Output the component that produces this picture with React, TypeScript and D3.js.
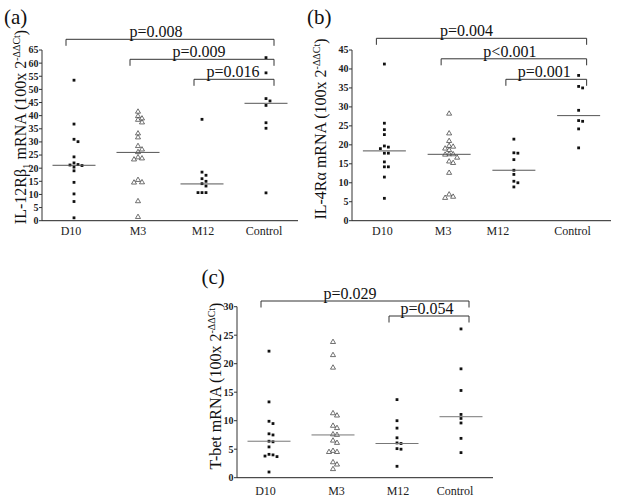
import React from 'react';
import * as d3 from 'd3';

const categories = ['D10', 'M3', 'M12', 'Control'];

// Panel (a): IL-12Rβ1
const aD10 = [53.5, 36.8, 31.0, 30.1, 24.3, 22.0, 21.4, 21.2, 21.0, 20.4, 19.0, 14.6, 10.2, 7.3, 1.1];
const aM3 = [41.5, 39.8, 38.9, 38.4, 37.4, 33.2, 31.7, 28.4, 27.1, 26.1, 24.1, 23.7, 23.3, 15.5, 14.6, 14.5, 7.4, 1.4];
const aM12 = [38.6, 18.5, 17.3, 16.0, 15.0, 14.1, 13.2, 10.7, 10.7, 10.7];
const aControl = [62.1, 56.3, 46.5, 45.6, 43.9, 37.3, 35.2, 10.6];
const aMedians = [21.1, 26.0, 14.0, 44.7];
const aTicks = [0, 5, 10, 15, 20, 25, 30, 35, 40, 45, 50, 55, 60, 65];
const aBrackets = [
  { from: 'D10', to: 'Control', label: 'p=0.008' },
  { from: 'M3', to: 'Control', label: 'p=0.009' },
  { from: 'M12', to: 'Control', label: 'p=0.016' },
];

// Panel (b): IL-4Rα
const bD10 = [41.3, 25.7, 24.0, 22.7, 19.7, 19.4, 19.0, 17.8, 17.8, 15.5, 14.2, 14.2, 11.5, 5.9];
const bM3 = [28.2, 23.0, 21.0, 19.7, 19.5, 19.0, 18.6, 17.5, 17.5, 17.4, 16.6, 15.6, 15.2, 12.6, 6.9, 6.3, 6.0];
const bM12 = [21.5, 17.9, 17.8, 16.1, 13.3, 12.2, 10.4, 10.0, 8.9];
const bControl = [38.3, 35.4, 35.0, 29.1, 26.4, 26.2, 24.2, 19.2];
const bMedians = [18.4, 17.5, 13.3, 27.7];
const bTicks = [0, 5, 10, 15, 20, 25, 30, 35, 40, 45];
const bBrackets = [
  { from: 'D10', to: 'Control', label: 'p=0.004' },
  { from: 'M3', to: 'Control', label: 'p<0.001' },
  { from: 'M12', to: 'Control', label: 'p=0.001' },
];

// Panel (c): T-bet
const cD10 = [22.2, 13.3, 9.9, 9.5, 7.7, 7.5, 6.4, 6.3, 5.4, 4.1, 4.0, 3.8, 3.7, 1.0];
const cM3 = [23.8, 21.5, 19.3, 11.3, 10.9, 9.1, 8.7, 7.6, 7.5, 6.5, 6.1, 4.7, 4.5, 4.5, 2.7, 2.3, 1.5];
const cM12 = [13.7, 10.0, 8.7, 7.0, 6.1, 6.0, 5.1, 5.0, 2.0];
const cControl = [26.1, 19.1, 15.3, 11.1, 10.4, 9.6, 6.9, 4.4];
const cMedians = [6.4, 7.5, 6.0, 10.7];
const cTicks = [0, 5, 10, 15, 20, 25, 30];
const cBrackets = [
  { from: 'D10', to: 'Control', label: 'p=0.029' },
  { from: 'M12', to: 'Control', label: 'p=0.054' },
];

const SERIF = "'Liberation Serif', 'Times New Roman', 'DejaVu Serif', serif";

type Bracket = { from: string; to: string; label: string };
type PanelProps = {
  groups: number[][];
  medians: number[];
  ticks: number[];
  brackets: Bracket[];
  x0: number; x1: number; yTop: number; yBottom: number; yMax: number;
  tag: string; tagX: number; tagY: number;
  yLabel: React.ReactNode; yLabelX: number; yLabelY: number;
  xLabelY: number; xLabelDx: number[];
  bracketY: number; bracketStep: number; bracketLabelDx: number[];
  medianColor: string;
};

function dodge(values: number[], cx: number, y: d3.ScaleLinear<number, number>) {
  const sorted = [...values].sort((a, b) => b - a);
  const placed: { x: number; y: number }[] = [];
  const offsets = [0, 4, -4, 8, -8, 12, -12];
  for (const v of sorted) {
    const py = y(v);
    let chosen = cx;
    for (const o of offsets) {
      const px = cx + o;
      const clash = placed.some(p => Math.abs(p.x - px) < 3.6 && Math.abs(p.y - py) < 3.6);
      if (!clash) { chosen = px; break; }
    }
    placed.push({ x: chosen, y: py });
  }
  return placed;
}

function Panel(p: PanelProps) {
  const x = d3.scaleBand<string>().domain(categories).range([p.x0, p.x1]);
  const y = d3.scaleLinear().domain([0, p.yMax]).range([p.yBottom, p.yTop]);
  const cx = (c: string) => (x(c) as number) + x.bandwidth() / 2;
  const tri = d3.symbol().type(d3.symbolTriangle).size(11)() as string;
  return (
    <g style={{ fontFamily: SERIF }}>
      <text x={p.tagX} y={p.tagY} fontSize={21} fill="#111">{p.tag}</text>
      {/* y axis */}
      <line x1={p.x0} x2={p.x0} y1={p.yBottom} y2={p.yTop} stroke="#333" strokeWidth={1} />
      {p.ticks.map(t => (
        <g key={t}>
          <line x1={p.x0 - 3} x2={p.x0} y1={y(t)} y2={y(t)} stroke="#333" strokeWidth={1} />
          <text x={p.x0 - 3.5} y={y(t) + 3.4} fontSize={10} fontWeight="bold" textAnchor="end" fill="#222">{t}</text>
        </g>
      ))}
      {/* x axis */}
      <line x1={p.x0} x2={p.x1} y1={p.yBottom} y2={p.yBottom} stroke="#222" strokeWidth={1} />
      {categories.map((c, i) => (
        <text key={c} x={cx(c) + p.xLabelDx[i]} y={p.xLabelY} fontSize={12} textAnchor="middle" fill="#222">{c}</text>
      ))}
      {/* y label */}
      <text transform={`translate(${p.yLabelX},${p.yLabelY}) rotate(-90)`} fontSize={16} textAnchor="middle" fill="#111">{p.yLabel}</text>
      {/* points */}
      {p.groups.map((vals, gi) => {
        const c = categories[gi];
        const pts = dodge(vals, cx(c), y);
        return (
          <g key={c}>
            {pts.map((pt, k) => gi === 1 ? (
              <path key={k} d={tri} transform={`translate(${pt.x},${pt.y})`} fill="#fff" stroke="#333" strokeWidth={0.7} />
            ) : (
              <rect key={k} x={pt.x - 1.4} y={pt.y - 1.4} width={2.8} height={2.8} fill="#111" />
            ))}
            <line x1={cx(c) - 21.5} x2={cx(c) + 21.5} y1={y(p.medians[gi])} y2={y(p.medians[gi])} stroke={p.medianColor} strokeWidth={1} />
          </g>
        );
      })}
      {/* brackets */}
      {p.brackets.map((b, i) => {
        const bx1 = cx(b.from) - 8;
        const bx2 = cx(b.to) + 8;
        const by = p.bracketY + i * p.bracketStep;
        return (
          <g key={b.label}>
            <path d={`M${bx1},${by + 6.5}V${by}H${bx2}V${by + 6.5}`} fill="none" stroke="#333" strokeWidth={1} />
            <text x={(bx1 + bx2) / 2 + p.bracketLabelDx[i]} y={by - 2} fontSize={16} textAnchor="middle" fill="#111">{b.label}</text>
          </g>
        );
      })}
    </g>
  );
}

const sup = (
  <>
    <tspan dy={-6} fontSize={10}>-ΔΔCt</tspan>
    <tspan dy={6}>)</tspan>
  </>
);

export default function App() {
  return (
    <svg width={618} height={503} style={{ display: 'block', position: 'absolute', left: 0, top: 0, fontFamily: SERIF }}>
      <rect width={618} height={503} fill="#fff" />
      <Panel
        groups={[aD10, aM3, aM12, aControl]} medians={aMedians} ticks={aTicks} brackets={aBrackets}
        x0={42} x1={298} yTop={50} yBottom={220.7} yMax={65}
        tag="(a)" tagX={4} tagY={24}
        yLabel={<>IL-12Rβ<tspan dy={4} fontSize={11}>1</tspan><tspan dy={-4}> mRNA (100x 2</tspan>{sup}</>}
        yLabelX={25.5} yLabelY={127}
        xLabelY={235} xLabelDx={[-3, 0, 1, -2]}
        bracketY={39.3} bracketStep={20} bracketLabelDx={[-14, -3, -1]}
        medianColor="#555"
      />
      <Panel
        groups={[bD10, bM3, bM12, bControl]} medians={bMedians} ticks={bTicks} brackets={bBrackets}
        x0={352} x1={611} yTop={50} yBottom={220.7} yMax={45}
        tag="(b)" tagX={307} tagY={24}
        yLabel={<>IL-4Rα mRNA (100x 2{sup}</>}
        yLabelX={326} yLabelY={129}
        xLabelY={235} xLabelDx={[-2, -6, -16, -6]}
        bracketY={38.3} bracketStep={20.5} bracketLabelDx={[-15, -4, -2]}
        medianColor="#555"
      />
      <Panel
        groups={[cD10, cM3, cM12, cControl]} medians={cMedians} ticks={cTicks} brackets={cBrackets}
        x0={237} x1={493} yTop={306.7} yBottom={477.7} yMax={30}
        tag="(c)" tagX={201.5} tagY={284}
        yLabel={<>T-bet mRNA (100x 2{sup}</>}
        yLabelX={221} yLabelY={386}
        xLabelY={495} xLabelDx={[-3.5, 3.5, 1, -6]}
        bracketY={301} bracketStep={15} bracketLabelDx={[-15, -2]}
        medianColor="#777"
      />
    </svg>
  );
}
